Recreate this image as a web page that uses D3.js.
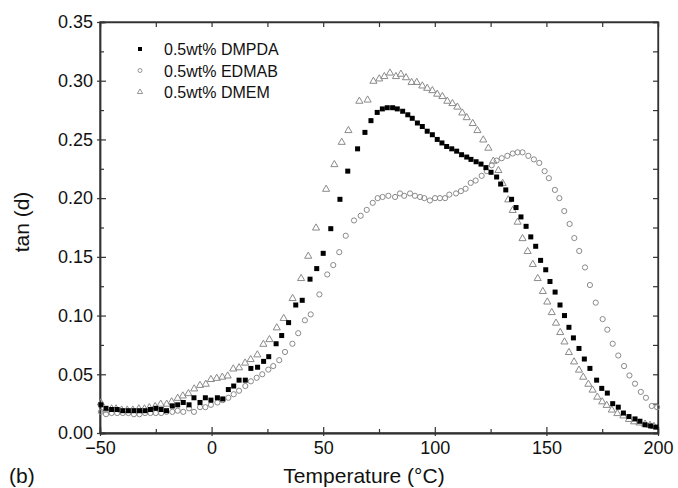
<!DOCTYPE html>
<html lang="en">
<head>
<meta charset="UTF-8"/>
<title>tan (d) vs Temperature</title>
<script src="https://d3js.org/d3.v7.min.js"></script>
<style>
    body { margin: 0; background: #fff; }
    text { font-family: Arial, "Liberation Sans", sans-serif; fill: #111; }
</style>
</head>
<body>
<script>
    // Data (temperature in °C, tan delta)
    var dmpdaT = [-49.6,-47.3,-44.8,-42.3,-39.8,-37.3,-34.8,-32.3,-29.8,-27.4,-25.0,-22.6,-20.2,-17.6,-15.2,-12.7,-10.1,-7.9,-5.2,-2.8,-0.3,2.6,5.0,7.5,9.9,12.3,15.1,17.6,20.6,23.3,25.6,28.9,31.4,34.5,37.7,40.6,44.1,47.1,50.0,53.4,57.5,61.0,65.4,68.7,71.4,74.2,76.5,78.7,81.1,83.2,85.6,87.9,89.9,92.2,94.4,96.6,98.9,101.1,103.2,105.3,107.6,109.8,112.0,114.3,116.2,118.5,120.7,122.9,125.2,127.7,129.5,131.8,134.4,136.4,138.6,140.9,143.0,145.2,147.4,149.7,151.6,153.9,156.1,158.1,160.1,162.1,164.6,167.0,169.5,172.5,174.8,177.3,179.7,182.2,184.5,187.0,189.7,191.9,194.2,196.7,199.0];
    var dmpdaV = [0.024,0.021,0.020,0.020,0.019,0.019,0.019,0.019,0.019,0.020,0.021,0.020,0.019,0.023,0.024,0.026,0.024,0.030,0.026,0.030,0.028,0.030,0.029,0.037,0.040,0.045,0.045,0.055,0.056,0.061,0.065,0.076,0.083,0.094,0.109,0.113,0.131,0.140,0.153,0.174,0.199,0.223,0.242,0.256,0.266,0.273,0.276,0.277,0.277,0.276,0.274,0.271,0.268,0.264,0.261,0.257,0.254,0.250,0.247,0.244,0.242,0.240,0.237,0.235,0.233,0.231,0.229,0.226,0.222,0.218,0.212,0.207,0.199,0.192,0.184,0.176,0.167,0.159,0.147,0.139,0.129,0.120,0.109,0.100,0.090,0.081,0.072,0.063,0.055,0.045,0.038,0.034,0.025,0.022,0.017,0.014,0.012,0.010,0.007,0.006,0.005];

    var edmabT = [-49.6,-47.3,-44.8,-42.3,-39.8,-37.3,-34.8,-32.3,-29.8,-27.4,-25.0,-22.6,-20.2,-17.6,-15.2,-12.7,-10.1,-7.9,-5.2,-2.8,-0.3,2.6,5.0,7.5,9.9,12.3,15.1,17.6,20.2,22.7,25.4,27.6,30.3,32.9,36.2,38.8,41.8,44.4,48.3,51.8,54.5,57.2,60.1,63.8,66.8,69.5,72.2,74.4,76.6,79.2,82.2,84.4,86.3,88.9,91.1,93.4,95.3,97.8,100.1,102.3,104.6,106.5,109.5,111.7,113.8,116.1,118.3,121.0,123.3,125.5,127.7,130.0,132.5,134.9,137.1,139.3,141.9,144.4,146.8,149.2,151.1,153.8,155.8,158.0,160.4,162.5,164.7,167.3,169.5,172.1,175.2,177.3,179.7,182.2,184.8,187.2,189.7,192.3,194.6,197.2,199.6];
    var edmabV = [0.018,0.016,0.017,0.017,0.017,0.017,0.016,0.016,0.017,0.017,0.017,0.017,0.018,0.018,0.019,0.018,0.021,0.018,0.022,0.022,0.024,0.026,0.028,0.030,0.033,0.036,0.040,0.044,0.047,0.050,0.054,0.057,0.062,0.069,0.076,0.085,0.096,0.101,0.118,0.135,0.143,0.154,0.168,0.181,0.185,0.190,0.196,0.200,0.201,0.202,0.201,0.204,0.202,0.204,0.202,0.201,0.200,0.198,0.200,0.200,0.200,0.203,0.204,0.206,0.208,0.213,0.215,0.219,0.223,0.228,0.232,0.234,0.236,0.238,0.239,0.239,0.236,0.233,0.230,0.223,0.217,0.207,0.200,0.189,0.178,0.166,0.155,0.141,0.126,0.111,0.097,0.088,0.076,0.066,0.057,0.049,0.042,0.035,0.030,0.023,0.022];

    var dmemT = [-49.6,-47.3,-44.8,-42.8,-40.3,-37.8,-35.3,-32.6,-30.1,-27.9,-25.3,-22.8,-20.1,-17.9,-15.2,-12.9,-10.4,-7.8,-5.2,-2.6,-0.3,2.3,4.8,7.2,9.7,12.3,15.0,17.5,20.5,23.2,25.9,29.2,32.3,36.3,40.1,43.3,46.8,51.3,55.0,58.3,61.3,66.2,69.9,72.5,75.1,77.4,79.9,82.6,84.8,87.1,89.6,91.9,94.4,96.6,98.9,101.1,103.4,105.6,107.9,110.1,112.3,114.3,117.0,119.1,121.7,124.0,126.2,128.5,130.4,132.9,134.9,137.1,139.3,141.6,143.9,146.1,148.4,150.4,152.4,154.3,156.2,158.1,160.1,162.4,164.6,166.5,168.8,170.7,172.8,175.0,177.0,179.3,181.8,184.5,187.0,189.3,191.7,194.2,196.4,198.2];
    var dmemV = [0.026,0.020,0.021,0.021,0.020,0.020,0.020,0.021,0.021,0.022,0.023,0.025,0.025,0.027,0.030,0.032,0.034,0.038,0.041,0.042,0.046,0.047,0.048,0.049,0.055,0.056,0.060,0.063,0.067,0.076,0.080,0.090,0.098,0.115,0.132,0.151,0.175,0.208,0.229,0.248,0.258,0.283,0.284,0.300,0.302,0.304,0.307,0.304,0.306,0.303,0.299,0.299,0.296,0.294,0.292,0.289,0.287,0.283,0.281,0.278,0.273,0.269,0.264,0.258,0.250,0.243,0.232,0.224,0.213,0.199,0.190,0.180,0.166,0.155,0.144,0.132,0.121,0.112,0.103,0.094,0.086,0.078,0.069,0.061,0.054,0.048,0.042,0.037,0.031,0.027,0.024,0.020,0.017,0.015,0.012,0.010,0.009,0.008,0.007,0.006];

    var seriesNames = ["0.5wt% DMPDA", "0.5wt% EDMAB", "0.5wt% DMEM"];
    var xTicks = [-50, 0, 50, 100, 150, 200];
    var xMinor = [-25, 25, 75, 125, 175];
    var yTicks = [0, 0.05, 0.10, 0.15, 0.20, 0.25, 0.30, 0.35];
    var yMinor = [0.025, 0.075, 0.125, 0.175, 0.225, 0.275, 0.325];

    // Setup of svg canvas
    var width = 678, height = 488;
    var margin = { top: 22, right: 20, bottom: 55, left: 100 };
    var w = width - margin.left - margin.right;
    var h = height - margin.top - margin.bottom;

    var xScale = d3.scaleLinear().domain([-50, 200]).range([0, w]);
    var yScale = d3.scaleLinear().domain([0, 0.35]).range([h, 0]);

    var svg = d3.select("body")
                .append("svg")
                .attr("width", width)
                .attr("height", height);

    var g = svg.append("g")
               .attr("transform", "translate(" + margin.left + "," + margin.top + ")");

    var axisColor = "#333";

    // Bottom axis: labels + outward part of major ticks
    var xAxis = g.append("g")
       .attr("transform", "translate(0," + h + ")")
       .call(d3.axisBottom(xScale).tickValues(xTicks).tickSizeInner(3).tickSizeOuter(0).tickPadding(5)
             .tickFormat(d3.format("d")));
    // inward major + minor
    g.append("g").attr("transform", "translate(0," + h + ")")
       .call(d3.axisBottom(xScale).tickValues(xTicks).tickSize(-6).tickFormat(""));
    g.append("g").attr("transform", "translate(0," + h + ")")
       .call(d3.axisBottom(xScale).tickValues(xMinor).tickSize(-4).tickFormat(""));
    // top axis, inward ticks
    g.append("g")
       .call(d3.axisTop(xScale).tickValues(xTicks.concat(xMinor)).tickSize(-5).tickFormat(""));

    // Left axis
    g.append("g")
       .call(d3.axisLeft(yScale).tickValues(yTicks).tickSizeInner(3).tickSizeOuter(0).tickPadding(4)
             .tickFormat(d3.format(".2f")));
    g.append("g")
       .call(d3.axisLeft(yScale).tickValues(yTicks).tickSize(-6).tickFormat(""));
    g.append("g")
       .call(d3.axisLeft(yScale).tickValues(yMinor).tickSize(-4).tickFormat(""));
    // right axis, inward ticks
    g.append("g").attr("transform", "translate(" + w + ",0)")
       .call(d3.axisRight(yScale).tickValues(yTicks.concat(yMinor)).tickSize(-5).tickFormat(""));

    g.selectAll(".domain").attr("stroke", axisColor).attr("stroke-width", 1.3);
    g.selectAll(".tick line").attr("stroke", axisColor).attr("stroke-width", 1.2);
    g.selectAll(".tick text")
     .attr("font-size", "18px")
     .attr("fill", "#111")
     .attr("font-family", "Arial, 'Liberation Sans', sans-serif");

    // Frame
    g.append("rect")
     .attr("x", 0).attr("y", 0)
     .attr("width", w).attr("height", h)
     .attr("fill", "none")
     .attr("stroke", axisColor)
     .attr("stroke-width", 1.3);

    // Markers
    var grey = "#8a8a8a";
    var tri = d3.symbol().type(d3.symbolTriangle).size(22);

    function zip(ts, vs) {
        return ts.map(function(t, i) { return { t: t, v: vs[i] }; });
    }

    // EDMAB: open circles
    g.append("g").selectAll("circle")
     .data(zip(edmabT, edmabV))
     .enter()
     .append("circle")
     .attr("cx", function(d) { return xScale(d.t); })
     .attr("cy", function(d) { return yScale(d.v); })
     .attr("r", 2.6)
     .attr("fill", "none")
     .attr("stroke", grey)
     .attr("stroke-width", 1);

    // DMEM: open triangles
    g.append("g").selectAll("path")
     .data(zip(dmemT, dmemV))
     .enter()
     .append("path")
     .attr("d", tri)
     .attr("transform", function(d) { return "translate(" + xScale(d.t) + "," + (yScale(d.v) + 0.5) + ")"; })
     .attr("fill", "none")
     .attr("stroke", grey)
     .attr("stroke-width", 1);

    // DMPDA: filled squares
    g.append("g").selectAll("rect")
     .data(zip(dmpdaT, dmpdaV))
     .enter()
     .append("rect")
     .attr("x", function(d) { return xScale(d.t) - 2.5; })
     .attr("y", function(d) { return yScale(d.v) - 2.5; })
     .attr("width", 5)
     .attr("height", 5)
     .attr("fill", "#000");

    // Legend
    var legend = g.append("g").attr("transform", "translate(40,27)");
    seriesNames.forEach(function(name, i) {
        var row = legend.append("g").attr("transform", "translate(0," + (i * 21.5) + ")");
        if (i === 0) {
            row.append("rect").attr("x", -2).attr("y", -2).attr("width", 4).attr("height", 4).attr("fill", "#000");
        } else if (i === 1) {
            row.append("circle").attr("r", 2).attr("fill", "none").attr("stroke", grey).attr("stroke-width", 0.9);
        } else {
            row.append("path").attr("d", d3.symbol().type(d3.symbolTriangle).size(12)).attr("fill", "none")
               .attr("stroke", grey).attr("stroke-width", 0.9);
        }
        row.append("text")
           .attr("x", 24)
           .attr("y", 6)
           .attr("font-size", "16px")
           .text(name);
    });

    // Axis titles
    svg.append("text")
       .attr("x", 364)
       .attr("y", 483)
       .attr("text-anchor", "middle")
       .attr("font-size", "21px")
       .text("Temperature (\u00B0C)");

    svg.append("text")
       .attr("transform", "translate(29,222) rotate(-90)")
       .attr("text-anchor", "middle")
       .attr("font-size", "21px")
       .text("tan (d)");

    svg.append("text")
       .attr("x", 9)
       .attr("y", 483)
       .attr("font-size", "21px")
       .text("(b)");
</script>
</body>
</html>
